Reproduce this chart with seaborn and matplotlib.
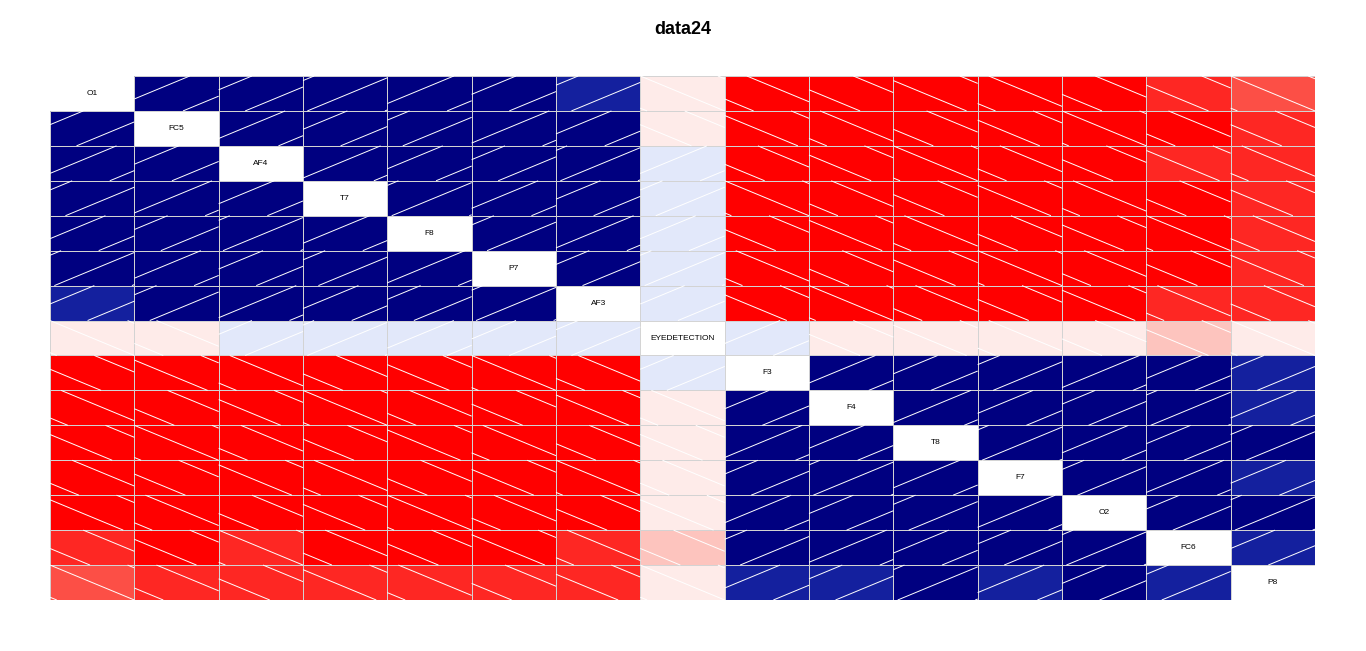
"""Corrgram-style shaded correlation matrix for data24."""

import matplotlib.pyplot as plt
import numpy as np
import pandas as pd
import seaborn as sns
from matplotlib.collections import LineCollection
from matplotlib.colors import ListedColormap
from matplotlib.patches import Rectangle

variables = ["O1", "FC5", "AF4", "T7", "F8", "P7", "AF3", "EYEDETECTION",
             "F3", "F4", "T8", "F7", "O2", "FC6", "P8"]

# correlations
row_o1 = [1.00, 0.93, 0.93, 0.93, 0.93, 0.93, 0.80, -0.05, -0.93, -0.93, -0.93, -0.93, -0.93, -0.80, -0.65]
row_fc5 = [0.93, 1.00, 0.93, 0.93, 0.93, 0.93, 0.93, -0.05, -0.93, -0.93, -0.93, -0.93, -0.93, -0.93, -0.80]
row_af4 = [0.93, 0.93, 1.00, 0.93, 0.93, 0.93, 0.93, 0.05, -0.93, -0.93, -0.93, -0.93, -0.93, -0.80, -0.80]
row_t7 = [0.93, 0.93, 0.93, 1.00, 0.93, 0.93, 0.93, 0.05, -0.93, -0.93, -0.93, -0.93, -0.93, -0.93, -0.80]
row_f8 = [0.93, 0.93, 0.93, 0.93, 1.00, 0.93, 0.93, 0.05, -0.93, -0.93, -0.93, -0.93, -0.93, -0.93, -0.80]
row_p7 = [0.93, 0.93, 0.93, 0.93, 0.93, 1.00, 0.93, 0.05, -0.93, -0.93, -0.93, -0.93, -0.93, -0.93, -0.80]
row_af3 = [0.80, 0.93, 0.93, 0.93, 0.93, 0.93, 1.00, 0.05, -0.93, -0.93, -0.93, -0.93, -0.93, -0.80, -0.80]
row_eye = [-0.05, -0.05, 0.05, 0.05, 0.05, 0.05, 0.05, 1.00, 0.05, -0.05, -0.05, -0.05, -0.05, -0.20, -0.05]
row_f3 = [-0.93, -0.93, -0.93, -0.93, -0.93, -0.93, -0.93, 0.05, 1.00, 0.93, 0.93, 0.93, 0.93, 0.93, 0.80]
row_f4 = [-0.93, -0.93, -0.93, -0.93, -0.93, -0.93, -0.93, -0.05, 0.93, 1.00, 0.93, 0.93, 0.93, 0.93, 0.80]
row_t8 = [-0.93, -0.93, -0.93, -0.93, -0.93, -0.93, -0.93, -0.05, 0.93, 0.93, 1.00, 0.93, 0.93, 0.93, 0.93]
row_f7 = [-0.93, -0.93, -0.93, -0.93, -0.93, -0.93, -0.93, -0.05, 0.93, 0.93, 0.93, 1.00, 0.93, 0.93, 0.80]
row_o2 = [-0.93, -0.93, -0.93, -0.93, -0.93, -0.93, -0.93, -0.05, 0.93, 0.93, 0.93, 0.93, 1.00, 0.93, 0.93]
row_fc6 = [-0.80, -0.93, -0.80, -0.93, -0.93, -0.93, -0.80, -0.20, 0.93, 0.93, 0.93, 0.93, 0.93, 1.00, 0.80]
row_p8 = [-0.65, -0.80, -0.80, -0.80, -0.80, -0.80, -0.80, -0.05, 0.80, 0.80, 0.93, 0.80, 0.93, 0.80, 1.00]

corr = pd.DataFrame(
    [row_o1, row_fc5, row_af4, row_t7, row_f8, row_p7, row_af3, row_eye,
     row_f3, row_f4, row_t8, row_f7, row_o2, row_fc6, row_p8],
    index=variables, columns=variables,
)

# 14-step red-salmon-white-royalblue-navy palette
palette = ["#FF0000", "#FE2723", "#FC4F46", "#FA7669", "#FB9D93", "#FDC4BE",
           "#FEEBE9", "#E2E8FA", "#A7BAF1", "#6D8CE8", "#3C61DA", "#2841BC",
           "#14209E", "#000080"]

sns.set_theme(style="white")
plt.rcParams["font.family"] = ["Liberation Sans", "DejaVu Sans"]

fig = plt.figure(figsize=(13.66, 6.51), dpi=100)
ax = fig.add_axes([50 / 1366, 1 - 600 / 651, 1265 / 1366, 524 / 651])

n = len(variables)
mask = np.eye(n, dtype=bool)
sns.heatmap(corr, mask=mask, cmap=ListedColormap(palette), vmin=-1, vmax=1,
            cbar=False, xticklabels=False, yticklabels=False,
            linewidths=0, ax=ax)

# white shading lines, restarted in every panel: "/" positive, "\" negative
spacing = 0.92
segments = []
for i in range(n):
    for j in range(n):
        if i == j:
            continue
        r = corr.iat[i, j]
        phase = ((3 * i + 5 * j) % 7) / 7 * spacing
        for k in range(-3, 4):
            c = phase + k * spacing
            if r > 0:
                u0, u1 = max(0, c - 1), min(1, c)
                if u1 > u0:
                    segments.append([(j + u0, i + c - u0), (j + u1, i + c - u1)])
            else:
                u0, u1 = max(0, -c), min(1, 1 - c)
                if u1 > u0:
                    segments.append([(j + u0, i + u0 + c), (j + u1, i + u1 + c)])
ax.add_collection(LineCollection(segments, colors="white", linewidths=0.7))

# light gray box round each off-diagonal panel
for i in range(n):
    for j in range(n):
        if i != j:
            ax.add_patch(Rectangle((j, i), 1, 1, fill=False,
                                   edgecolor="#d3d3d3", linewidth=0.7))

for i, name in enumerate(variables):
    ax.text(i + 0.5, i + 0.5, name, ha="center", va="center",
            fontsize=6, color="black")

fig.text(0.5, 1 - 30 / 651, "data24", ha="center", va="center",
         fontsize=13, fontweight="bold", color="black")

fig.savefig("out.png", dpi=100)
